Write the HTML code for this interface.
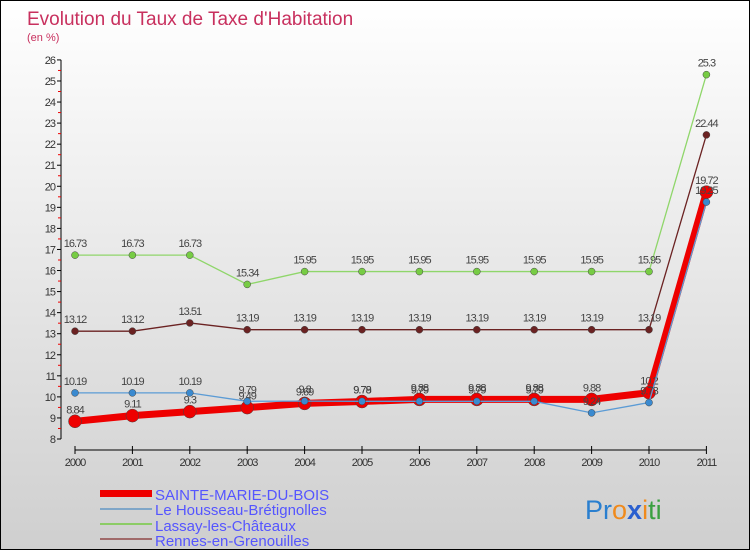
<!DOCTYPE html>
<html><head><meta charset="utf-8"><style>
body{margin:0;width:750px;height:550px;overflow:hidden}
#c{position:relative;width:748px;height:548px;border:1px solid #000;background:linear-gradient(#ffffff,#cfcfcf)}
svg text{font-family:"Liberation Sans",sans-serif}
</style></head><body>
<div id="c">
<svg id="s" width="748" height="548">
<text x="26" y="24" font-size="19" fill="#c8305e">Evolution du Taux de Taxe d'Habitation</text>
<text x="26" y="40" font-size="11" fill="#c8305e">(en %)</text>
<text x="154" y="499" font-size="15" fill="#5555ff">SAINTE-MARIE-DU-BOIS</text>
<text x="154" y="514" font-size="15" fill="#5555ff">Le Housseau-Brétignolles</text>
<text x="154" y="530" font-size="15" fill="#5555ff">Lassay-les-Châteaux</text>
<text x="154" y="545" font-size="15" fill="#5555ff">Rennes-en-Grenouilles</text>
<rect x="99" y="489" width="52" height="7" fill="#ee0000"/>
<rect x="99" y="507" width="52" height="2" fill="#7fa6c8"/>
<rect x="99" y="522" width="52" height="2" fill="#8ccc66"/>
<rect x="99" y="537" width="52" height="2" fill="#a06a6a"/>
<text x="584" y="518" font-size="27" font-family="DejaVu Sans"><tspan fill="#2a7fcf">Pr</tspan><tspan fill="#f08a1c">o</tspan><tspan fill="#2a5fcf" font-weight="bold">x</tspan><tspan fill="#f08a1c">i</tspan><tspan fill="#3aa040">ti</tspan></text>
</svg></div>
<script>
const years=['2000','2001','2002','2003','2004','2005','2006','2007','2008','2009','2010','2011'];
const yTicks=[8,9,10,11,12,13,14,15,16,17,18,19,20,21,22,23,24,25,26];
const sainte=[8.84,9.11,9.3,9.49,9.69,9.78,9.88,9.88,9.88,9.88,10.2,19.72];
const housseau=[10.19,10.19,10.19,9.79,9.8,9.79,9.79,9.79,9.79,9.24,9.73,19.25];
const lassay=[16.73,16.73,16.73,15.34,15.95,15.95,15.95,15.95,15.95,15.95,15.95,25.3];
const rennes=[13.12,13.12,13.51,13.19,13.19,13.19,13.19,13.19,13.19,13.19,13.19,22.44];
const NS='http://www.w3.org/2000/svg',s=document.getElementById('s');
const X=i=>74+i*57.4, Y=v=>438-(v-8)*21.06;
function el(t,a,n){const e=document.createElementNS(NS,t);for(const k in a)e.setAttribute(k,a[k]);


s.appendChild(e);return e;}
el('line',{x1:60,y1:Y(26),x2:60,y2:Y(8),stroke:'#000'},'y-axis');
yTicks.forEach(v=>{el('line',{x1:56,y1:Y(v),x2:60,y2:Y(v),stroke:'#000'},'y-tick');
if(v<26)el('line',{x1:57,y1:Y(v+0.5),x2:60,y2:Y(v+0.5),stroke:'#e00'},'y-minor-tick');
const t=el('text',{x:54,y:Y(v)+4,'font-size':11,'text-anchor':'end',fill:'#333','letter-spacing':'-1'},'y-tick-label');t.textContent=v;});
el('line',{x1:X(0),y1:449,x2:X(11),y2:449,stroke:'#000'},'x-axis');
years.forEach((y,i)=>{el('line',{x1:X(i),y1:445,x2:X(i),y2:453,stroke:'#000'},'x-tick');
const t=el('text',{x:X(i),y:465,'font-size':11,'text-anchor':'middle',fill:'#333','letter-spacing':'-1'},'x-tick-label');t.textContent=y;});
function series(d,col,dot,w,r,n){
el('polyline',{points:d.map((v,i)=>X(i)+','+Y(v)).join(' '),fill:'none',stroke:col,'stroke-width':w},n+'-line');
d.forEach((v,i)=>{el('circle',{cx:X(i),cy:Y(v),r:r,fill:dot,stroke:'#444','stroke-width':0.5},n+'-point');
const t=el('text',{x:X(i),y:Y(v)-8,'font-size':11,'text-anchor':'middle',fill:'#444','letter-spacing':'-1'},n+'-value-label');t.textContent=v;});}
series(lassay,'#8fd66a','#77cc44',1.3,3.5,'lassay');
series(rennes,'#6b2222','#6b2222',1.3,3.5,'rennes');
series(sainte,'#ee0000','#ee0000',7,6.5,'sainte-marie');
series(housseau,'#5b9bd5','#3a8ad0',1.3,3.5,'le-housseau');
</script></body></html>
